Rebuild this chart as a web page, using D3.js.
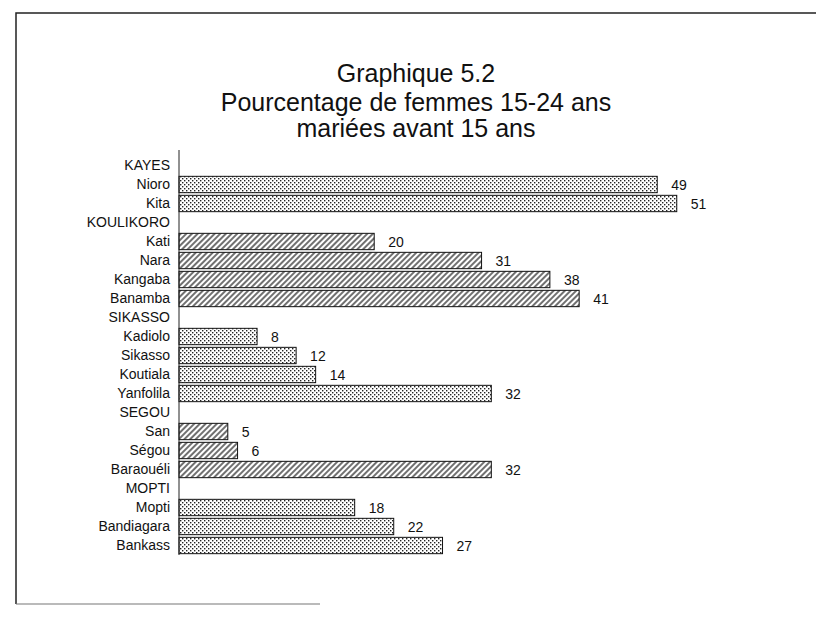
<!DOCTYPE html>
<html>
<head>
<meta charset="utf-8">
<script src="https://cdn.jsdelivr.net/npm/d3@7"></script>
<style>
  body { margin: 0; background: #fff; }
  svg { display: block; font-family: "Liberation Sans", Arial, sans-serif; }
</style>
</head>
<body>
<svg id="chart"></svg>
<script>
// rows of the chart, top to bottom (regions have no value)
var labels = ["KAYES", "Nioro", "Kita", "KOULIKORO", "Kati", "Nara", "Kangaba", "Banamba",
    "SIKASSO", "Kadiolo", "Sikasso", "Koutiala", "Yanfolila", "SEGOU", "San", "Ségou", "Baraouéli",
    "MOPTI", "Mopti", "Bandiagara", "Bankass"];
var values = [null, 49, 51, null, 20, 31, 38, 41, null, 8, 12, 14, 32, null, 5, 6, 32, null, 18, 22, 27];
// fill of each row: "dots" or "hatch"
var fills = [null, "dots", "dots", null, "hatch", "hatch", "hatch", "hatch", null, "dots", "dots", "dots", "dots",
    null, "hatch", "hatch", "hatch", null, "dots", "dots", "dots"];
var titleLines = ["Graphique 5.2", "Pourcentage de femmes 15-24 ans", "mariées avant 15 ans"];

var width = 816, height = 623;

var svg = d3.select("#chart")
    .attr("width", width)
    .attr("height", height);

var defs = svg.append("defs");

// stippled fill
var dots = defs.append("pattern")
    .attr("id", "dots")
    .attr("patternUnits", "userSpaceOnUse")
    .attr("width", 4)
    .attr("height", 4);
dots.append("rect").attr("width", 4).attr("height", 4).attr("fill", "#fff");
dots.append("rect").attr("x", 0).attr("y", 0).attr("width", 1.4).attr("height", 1.4).attr("fill", "#222");
dots.append("rect").attr("x", 2).attr("y", 2).attr("width", 1.4).attr("height", 1.4).attr("fill", "#222");

// diagonal hatch fill
var hatch = defs.append("pattern")
    .attr("id", "hatch")
    .attr("patternUnits", "userSpaceOnUse")
    .attr("width", 4)
    .attr("height", 4)
    .attr("patternTransform", "rotate(45)");
hatch.append("rect").attr("width", 4).attr("height", 4).attr("fill", "#fff");
hatch.append("line")
    .attr("x1", 1).attr("y1", 0).attr("x2", 1).attr("y2", 4)
    .attr("stroke", "#111").attr("stroke-width", 1.2);

// frame of the scanned page
svg.append("path")
    .attr("d", "M16,604 L16,13 L816,13")
    .attr("fill", "none")
    .attr("stroke", "#222")
    .attr("stroke-width", 1.5);
svg.append("line")
    .attr("x1", 16).attr("y1", 604).attr("x2", 320).attr("y2", 604)
    .attr("stroke", "#777")
    .attr("stroke-width", 1.2);

// title
var titleY = [82, 111, 137];
svg.append("g").selectAll("text")
    .data(titleLines).enter()
    .append("text")
    .attr("x", 416)
    .attr("y", (d, i) => titleY[i])
    .attr("text-anchor", "middle")
    .attr("font-size", 25)
    .attr("fill", "#111")
    .text(d => d);

var x = d3.scaleLinear().domain([0, 60]).range([179, 179 + 60 * 9.76]);
var y = d3.scaleBand().domain(labels).range([156, 555]).paddingInner(0.14).paddingOuter(0.07);

var g = svg.append("g");

// bars
g.selectAll(".bar")
    .data(labels.filter((d, i) => values[i] != null))
    .enter()
    .append("rect")
    .attr("class", "bar")
    .attr("x", x(0))
    .attr("y", d => y(d))
    .attr("width", d => x(values[labels.indexOf(d)]) - x(0))
    .attr("height", y.bandwidth())
    .attr("fill", d => "url(#" + fills[labels.indexOf(d)] + ")")
    .attr("stroke", "#111")
    .attr("stroke-width", 1);

// value labels
g.selectAll(".val")
    .data(labels.filter((d, i) => values[i] != null))
    .enter()
    .append("text")
    .attr("class", "val")
    .attr("x", d => x(values[labels.indexOf(d)]) + 14)
    .attr("y", d => y(d) + y.bandwidth() / 2 + 5)
    .attr("font-size", 14)
    .attr("fill", "#111")
    .text(d => values[labels.indexOf(d)]);

// category axis
var yAxis = d3.axisLeft(y).tickSize(0).tickPadding(9);
var axisG = svg.append("g")
    .attr("transform", "translate(" + x(0) + ",0)")
    .call(yAxis);
axisG.select(".domain").attr("stroke", "#222").attr("d", "M0,150V555");
axisG.selectAll("text")
    .attr("font-size", 14)
    .attr("font-family", "\"Liberation Sans\", Arial, sans-serif")
    .attr("fill", "#111");
</script>
</body>
</html>
